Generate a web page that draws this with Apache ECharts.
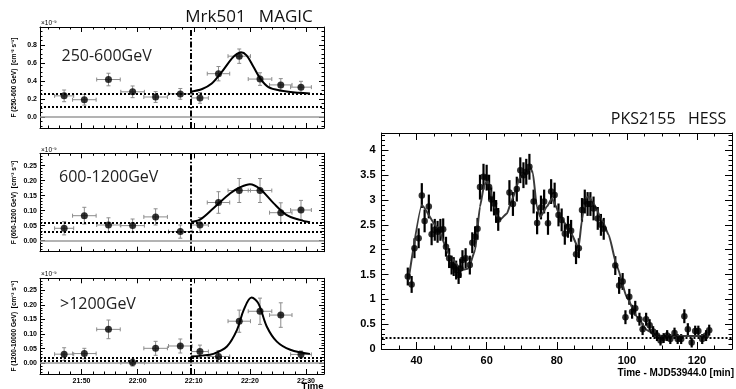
<!DOCTYPE html>
<html>
<head>
<meta charset="utf-8">
<title>Mrk501 MAGIC / PKS2155 HESS light curves</title>
<script src="https://cdn.jsdelivr.net/npm/echarts@6/dist/echarts.min.js"></script>
<style>
  html, body { margin: 0; padding: 0; background: #ffffff; }
  #chart { width: 736px; height: 389px; }
</style>
</head>
<body>
<div id="chart"></div>
<script>
// ---- Mrk 501 (MAGIC), time in minutes after 21:00 UT ----
const magicTime    = [46.9, 50.5, 54.8, 59.1, 63.2, 67.6, 71.1, 74.4, 78.1, 81.8, 85.5, 89.1];
const magicTimeErr = [1.7, 2.1, 2.1, 2.1, 2.1, 2.1, 1.5, 2.0, 2.0, 2.1, 2.0, 1.85];

const flux250to600    = [0.233, 0.19, 0.415, 0.278, 0.22, 0.255, 0.21, 0.48, 0.675, 0.42, 0.355, 0.33];
const flux250to600Err = [0.065, 0.06, 0.07, 0.065, 0.06, 0.06, 0.06, 0.08, 0.08, 0.07, 0.07, 0.065];
const fit250to600 = [[69.5,0.28],[71.5,0.31],[73.2,0.37],[75,0.5],[76.8,0.65],[77.7,0.70],[78.4,0.72],
                     [79.4,0.685],[80.6,0.56],[81.8,0.43],[83.3,0.33],[85.7,0.29],[88.6,0.267],[90.7,0.26]];
const levels250to600 = [0.26, 0.11];

const flux600to1200    = [0.041, 0.083, 0.052, 0.05, 0.079, 0.03, 0.052, 0.127, 0.167, 0.167, 0.093, 0.102];
const flux600to1200Err = [0.022, 0.028, 0.024, 0.022, 0.027, 0.022, 0.025, 0.036, 0.04, 0.04, 0.033, 0.032];
const fit600to1200 = [[69.5,0.063],[71.1,0.07],[73.5,0.108],[76.5,0.158],[78.2,0.177],[80,0.188],
                      [81.8,0.172],[84.2,0.125],[86.5,0.086],[88.9,0.069],[90.7,0.061]];
const levels600to1200 = [0.055, 0.027];

const flux1200up    = [0.031, 0.033, 0.116, 0.002, 0.051, 0.059, 0.04, 0.023, 0.144, 0.178, 0.165, 0.03];
const flux1200upErr = [0.022, 0.018, 0.032, 0.012, 0.024, 0.024, 0.022, 0.02, 0.038, 0.045, 0.042, 0.012];
const fit1200up = [[69.5,0.023],[71.5,0.026],[73.5,0.032],[75.9,0.057],[77.7,0.114],[78.9,0.183],
                   [80.3,0.225],[81.5,0.205],[83,0.126],[84.8,0.074],[87.2,0.046],[90.7,0.032]];
const levels1200up = [0.022, 0.014];

const flareStart = 69.5;   // 22:09.5

// ---- PKS 2155-304 (H.E.S.S.), time - MJD53944.0 in minutes ----
const hessTime = [
  37.5, 38.6, 39.4, 40.6, 41.5, 42.3, 43.5, 44.3, 45.2, 46.0,
  46.8, 47.6, 48.4, 49.3, 50.0, 50.6, 51.3, 52.0, 52.5, 53.1,
  54.0, 55.2, 55.9, 56.7, 57.4, 58.1, 59.1, 60.0, 60.7, 61.3,
  62.1, 62.7, 63.3, 66.5, 67.5, 68.6, 69.6, 70.5, 71.3, 72.2,
  73.4, 74.4, 75.5, 76.4, 77.5, 78.4, 79.4, 80.5, 81.4, 82.3,
  83.2, 84.1, 85.5, 86.3, 87.2, 88.0, 88.8, 89.6, 90.5, 91.7,
  92.6, 93.4, 96.7, 97.8, 98.8, 99.6, 100.7, 101.5, 102.4, 103.6,
  104.5, 105.5, 106.5, 107.5, 108.6, 109.6, 110.5, 111.5, 112.4, 113.6,
  114.5, 115.5, 116.4, 117.4, 118.5, 119.5, 120.4, 121.5, 122.6, 123.5
];
const hessFlux = [
  1.46, 1.30, 2.03, 2.23, 3.09, 2.58, 2.87, 2.31, 2.40, 2.36,
  2.40, 2.41, 2.06, 1.83, 1.69, 1.66, 1.59, 1.49, 1.62, 1.79,
  1.83, 1.69, 2.14, 2.26, 2.42, 3.26, 3.47, 3.45, 3.26, 3.01,
  2.93, 2.77, 2.61, 3.15, 2.92, 3.22, 3.60, 3.50, 3.57, 3.67,
  2.97, 2.54, 2.85, 2.97, 2.53, 3.17, 3.10, 2.70, 2.60, 2.32,
  2.46, 2.38, 1.91, 2.03, 2.80, 2.97, 2.92, 2.92, 2.83, 2.63,
  2.50, 2.42, 1.68, 1.28, 1.36, 0.64, 1.05, 0.75, 0.82, 0.60,
  0.40, 0.60, 0.48, 0.35, 0.27, 0.17, 0.22, 0.27, 0.20, 0.32,
  0.20, 0.20, 0.66, 0.40, 0.13, 0.36, 0.36, 0.20, 0.27, 0.38
];
const hessErr = [
  0.18, 0.17, 0.20, 0.20, 0.25, 0.23, 0.24, 0.22, 0.22, 0.22,
  0.22, 0.22, 0.20, 0.20, 0.19, 0.19, 0.19, 0.18, 0.19, 0.20,
  0.20, 0.19, 0.21, 0.21, 0.22, 0.25, 0.26, 0.26, 0.25, 0.24,
  0.24, 0.23, 0.23, 0.25, 0.24, 0.25, 0.26, 0.26, 0.26, 0.26,
  0.24, 0.23, 0.24, 0.24, 0.23, 0.25, 0.25, 0.23, 0.23, 0.22,
  0.22, 0.22, 0.20, 0.20, 0.24, 0.24, 0.24, 0.24, 0.24, 0.23,
  0.22, 0.22, 0.19, 0.17, 0.17, 0.14, 0.16, 0.14, 0.15, 0.13,
  0.12, 0.13, 0.12, 0.11, 0.11, 0.10, 0.10, 0.11, 0.10, 0.11,
  0.10, 0.10, 0.14, 0.12, 0.10, 0.11, 0.11, 0.10, 0.11, 0.11
];
const hessFit = [[37.7,1.39],[41.5,2.90],[45.8,2.46],[49.6,1.86],[52.9,1.59],[54.8,1.62],[56.7,1.99],
  [58.1,2.87],[59.3,3.30],[60.3,3.40],[61.8,3.00],[62.9,2.66],[63.9,2.61],[65.8,2.73],[67.2,3.00],
  [69.6,3.47],[71.5,3.54],[72.4,3.67],[73.2,3.54],[74.3,2.87],[75.3,2.66],[77.2,2.87],[78.6,3.03],
  [79.6,2.90],[81.0,2.66],[83.9,2.36],[86.2,2.03],[87.2,2.60],[88.1,3.03],[89.1,3.07],[90.5,2.93],
  [92.9,2.60],[94.8,2.30],[97.2,1.66],[100.1,1.02],[102.9,0.65],[105.8,0.38],[108.6,0.27],[111,0.26],[122.9,0.26]];
const hessLevel = 0.23;

// ---- tick labels ----
const magicTimeTicks = [50, 60, 70, 80, 90];
const flux250Ticks   = [0, 0.2, 0.4, 0.6, 0.8];
const fluxHighTicks  = [0, 0.05, 0.1, 0.15, 0.2, 0.25];
const hessTimeTicks  = [40, 60, 80, 100, 120];
const hessFluxTicks  = [0, 0.5, 1, 1.5, 2, 2.5, 3, 3.5, 4];

function range(a, b, step) {
  const out = [];
  for (let v = a; v <= b + 1e-9; v += step) out.push(+v.toFixed(4));
  return out;
}

const AX_FONT = '"Liberation Sans", Arial, sans-serif';
const TXT_FONT = '"Open Sans", "Noto Sans", sans-serif';

// Frame axes: major + minor ticks on both sides, ticks pointing inward.
function frameAxes(grid, sides, min, max, major, minor, lenMajor, lenMinor, label, nameOpt) {
  const axes = [];
  sides.forEach((side, k) => {
    const main = {
      type: 'value', gridIndex: grid, position: side, min: min, max: max,
      axisLine: { show: true, onZero: false, lineStyle: { color: '#000', width: 1 } },
      axisTick: { show: true, inside: true, length: lenMajor, customValues: major, lineStyle: { color: '#000', width: 1 } },
      axisLabel: (k === 0 && label) ? Object.assign({ customValues: major }, label) : { show: false },
      splitLine: { show: false }
    };
    if (k === 0 && nameOpt) Object.assign(main, nameOpt);
    axes.push(main);
    axes.push({
      type: 'value', gridIndex: grid, position: side, min: min, max: max,
      axisLine: { show: false, onZero: false },
      axisTick: { show: true, inside: true, length: lenMinor, customValues: minor, lineStyle: { color: '#000', width: 1 } },
      axisLabel: { show: false },
      splitLine: { show: false }
    });
  });
  return axes;
}

const timeLabel = {
  fontSize: 7, fontWeight: 'bold', fontFamily: AX_FONT, color: '#000', margin: 4,
  formatter: v => (21 + Math.floor(v / 60)) + ':' + String(Math.round(v % 60)).padStart(2, '0')
};
const leftYLabel = (digits) => ({
  fontSize: 7, fontWeight: 'bold', fontFamily: AX_FONT, color: '#000', margin: 3,
  formatter: v => v.toFixed(digits)
});
const yName = (text) => ({
  name: text, nameLocation: 'middle', nameGap: 22, nameRotate: 90,
  nameTextStyle: { fontSize: 6.5, fontWeight: 'bold', fontFamily: AX_FONT, color: '#000' }
});

const tMin = 42.6, tMax = 93.2;
const xAxes = [].concat(
  frameAxes(0, ['bottom', 'top'], tMin, tMax, magicTimeTicks, range(44, 92, 2), 5, 2.5, null),
  frameAxes(1, ['bottom', 'top'], tMin, tMax, magicTimeTicks, range(44, 92, 2), 5, 2.5, null),
  frameAxes(2, ['bottom', 'top'], tMin, tMax, magicTimeTicks, range(44, 92, 2), 5, 2.5, timeLabel),
  frameAxes(3, ['bottom', 'top'], 30, 130, hessTimeTicks, range(30, 130, 5), 7, 3.5,
    { fontSize: 11, fontWeight: 'bold', fontFamily: AX_FONT, color: '#000', margin: 6 })
);
const yAxes = [].concat(
  frameAxes(0, ['left', 'right'], -0.125, 1.0, flux250Ticks, range(-0.1, 0.95, 0.05), 5, 2.5,
    leftYLabel(1), yName('F (250-600 GeV)  [cm⁻² s⁻¹]')),
  frameAxes(1, ['left', 'right'], -0.037, 0.291, fluxHighTicks, range(-0.03, 0.29, 0.01), 5, 2.5,
    leftYLabel(2), yName('F (600-1200 GeV)  [cm⁻² s⁻¹]')),
  frameAxes(2, ['left', 'right'], -0.037, 0.291, fluxHighTicks, range(-0.03, 0.29, 0.01), 5, 2.5,
    leftYLabel(2), yName('F (1200-10000 GeV)  [cm⁻² s⁻¹]')),
  frameAxes(3, ['left', 'right'], 0, 4.35, hessFluxTicks, range(0, 4.3, 0.1), 7, 3.5,
    { fontSize: 11, fontWeight: 'bold', fontFamily: AX_FONT, color: '#000', margin: 6, formatter: v => String(v) })
);

// Error bars with small end caps (MAGIC) or plain thick vertical bars (HESS).
function magicErrorItem(params, api) {
  const x = api.value(0), y = api.value(1), ex = api.value(2), ey = api.value(3);
  const lo = api.coord([x, y - ey]), hi = api.coord([x, y + ey]);
  const l = api.coord([x - ex, y]), r = api.coord([x + ex, y]);
  const cap = 2;
  const style = { stroke: '#8c8c8c', lineWidth: 1 };
  const seg = (x1, y1, x2, y2) => ({ type: 'line', shape: { x1, y1, x2, y2 }, style });
  return { type: 'group', children: [
    seg(lo[0], lo[1], hi[0], hi[1]),
    seg(l[0], l[1], r[0], r[1]),
    seg(lo[0] - cap, lo[1], lo[0] + cap, lo[1]),
    seg(hi[0] - cap, hi[1], hi[0] + cap, hi[1]),
    seg(l[0], l[1] - cap, l[0], l[1] + cap),
    seg(r[0], r[1] - cap, r[0], r[1] + cap)
  ]};
}
function hessErrorItem(params, api) {
  const x = api.value(0), y = api.value(1), ey = api.value(2);
  const lo = api.coord([x, y - ey]), hi = api.coord([x, y + ey]);
  return { type: 'line', shape: { x1: lo[0], y1: lo[1], x2: hi[0], y2: hi[1] },
           style: { stroke: '#000', lineWidth: 2.2 } };
}

const dotted = { color: '#000', width: 2, type: [2, 2] };
function magicPanel(g, flux, err, fit, levels) {
  const ax = { xAxisIndex: 4 * g, yAxisIndex: 4 * g };
  return [
    Object.assign({
      type: 'custom', renderItem: magicErrorItem, encode: { x: 0, y: 1 }, z: 3, silent: true,
      data: magicTime.map((t, i) => [t, flux[i], magicTimeErr[i], err[i]])
    }, ax),
    Object.assign({
      type: 'line', data: fit, smooth: 0.35, showSymbol: false, z: 4, silent: true,
      lineStyle: { color: '#000', width: 2 },
      markLine: {
        silent: true, symbol: ['none', 'none'], label: { show: false }, animation: false,
        data: [
          { yAxis: 0, lineStyle: { color: '#9a9a9a', width: 1.5, type: 'solid' } },
          { yAxis: levels[0], lineStyle: dotted },
          { yAxis: levels[1], lineStyle: dotted },
          { xAxis: flareStart, lineStyle: { color: '#000', width: 2, type: [6, 2, 1.5, 2] } }
        ]
      }
    }, ax),
    Object.assign({
      type: 'scatter', data: magicTime.map((t, i) => [t, flux[i]]), symbolSize: 7, z: 5, silent: true,
      itemStyle: { color: '#000' }
    }, ax)
  ];
}

const series = [].concat(
  magicPanel(0, flux250to600, flux250to600Err, fit250to600, levels250to600),
  magicPanel(1, flux600to1200, flux600to1200Err, fit600to1200, levels600to1200),
  magicPanel(2, flux1200up, flux1200upErr, fit1200up, levels1200up),
  [
    {
      type: 'custom', renderItem: hessErrorItem, encode: { x: 0, y: 1 }, z: 3, silent: true,
      xAxisIndex: 12, yAxisIndex: 12,
      data: hessTime.map((t, i) => [t, hessFlux[i], hessErr[i]])
    },
    {
      type: 'line', data: hessFit, smooth: 0.15, smoothMonotone: 'x', showSymbol: false, z: 4, silent: true,
      xAxisIndex: 12, yAxisIndex: 12,
      lineStyle: { color: '#3a3a3a', width: 2 },
      markLine: {
        silent: true, symbol: ['none', 'none'], label: { show: false }, animation: false,
        data: [{ yAxis: hessLevel, lineStyle: dotted }]
      }
    },
    {
      type: 'scatter', data: hessTime.map((t, i) => [t, hessFlux[i]]), symbolSize: 6.5, z: 5, silent: true,
      xAxisIndex: 12, yAxisIndex: 12, itemStyle: { color: '#000' }
    }
  ]
);

function label(text, x, y, size, opts) {
  return {
    type: 'text', x: x, y: y, silent: true,
    style: Object.assign({
      text: text, fontSize: size, fontFamily: TXT_FONT, fill: '#222',
      align: 'left', verticalAlign: 'middle'
    }, opts || {})
  };
}

const chart = echarts.init(document.getElementById('chart'), null, { renderer: 'canvas' });
chart.setOption({
  backgroundColor: '#ffffff',
  animation: false,
  grid: [
    { left: 40, top: 27, width: 284, height: 101 },
    { left: 40, top: 153.3, width: 284, height: 98.4 },
    { left: 40, top: 278.3, width: 284, height: 95.7 },
    { left: 381.5, top: 133, width: 350.5, height: 216 }
  ],
  xAxis: xAxes,
  yAxis: yAxes,
  series: series,
  graphic: [
    label('Mrk501   MAGIC', 249, 17.5, 17, { align: 'center', fill: '#111' }),
    label('PKS2155   HESS', 668.5, 119.5, 16, { align: 'center', fill: '#111' }),
    label('250-600GeV', 61.5, 56, 16),
    label('600-1200GeV', 59, 177.5, 16),
    label('>1200GeV', 60, 304.5, 16),
    label('×10⁻⁹', 41, 23.5, 6.5, { fontFamily: AX_FONT, fill: '#000' }),
    label('×10⁻⁹', 41, 150, 6.5, { fontFamily: AX_FONT, fill: '#000' }),
    label('×10⁻⁹', 41, 274.5, 6.5, { fontFamily: AX_FONT, fill: '#000' }),
    label('Time', 323.5, 386.5, 9.5, { fontFamily: AX_FONT, fontWeight: 'bold', align: 'right', fill: '#000' }),
    label('Time - MJD53944.0 [min]', 734, 373.5, 10, { fontFamily: AX_FONT, fontWeight: 'bold', align: 'right', fill: '#000' })
  ]
});
</script>
</body>
</html>
